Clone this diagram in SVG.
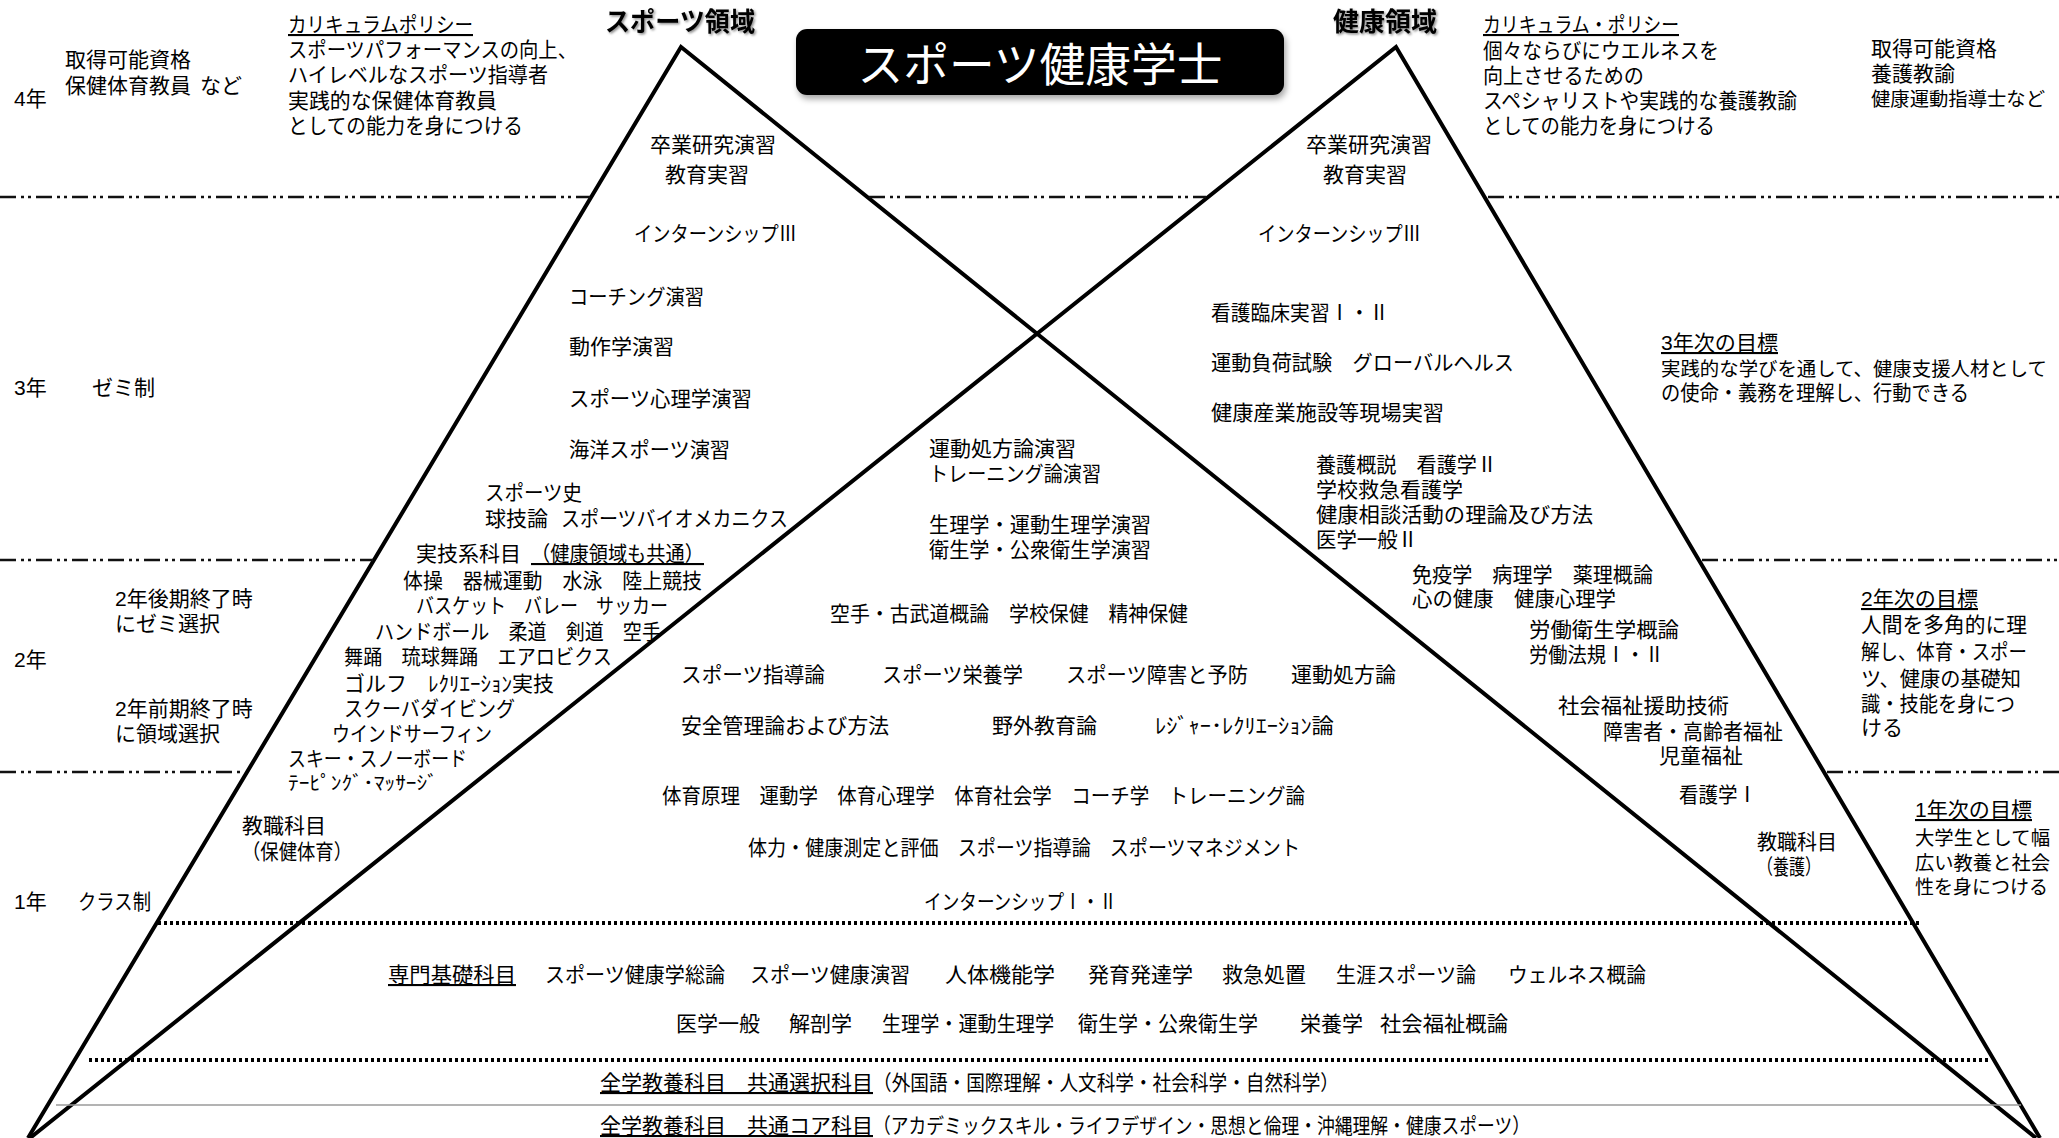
<svg xmlns="http://www.w3.org/2000/svg" width="2059" height="1138" viewBox="0 0 2059 1138">
<style>
.t{font-family:"Liberation Sans","Noto Sans CJK JP","Noto Sans CJK SC",sans-serif;font-size:21px;fill:#000}
.u{text-decoration:underline}
.h{font-weight:bold;font-size:26px}
.tt{font-size:46px;fill:#fff}
.sm{font-size:19px}
.nr{font-size:19.4px}
.tri{fill:none;stroke:#000;stroke-width:4;stroke-linejoin:miter}
.dd{fill:none;stroke:#111;stroke-width:2.5;stroke-dasharray:16 5 3 4 3 5}
.dot{fill:none;stroke:#000;stroke-width:4;stroke-dasharray:3 3}
.gl{fill:none;stroke:#9a9a9a;stroke-width:1.5}
</style>
<defs>
<filter id="sh" x="-10%" y="-20%" width="120%" height="160%"><feDropShadow dx="2" dy="4" stdDeviation="3" flood-color="#000" flood-opacity="0.35"/></filter>
<filter id="ts" x="-10%" y="-30%" width="120%" height="160%"><feDropShadow dx="1.5" dy="1.5" stdDeviation="1" flood-color="#000" flood-opacity="0.45"/></filter>
</defs>
<rect width="2059" height="1138" fill="#fff"/>

<g id="connectors">
<polyline class="tri" points="28,1138 681,47 2036,1138"/>
<polyline class="tri" points="30,1138 1396,47 2040,1138"/>
<line class="dd" x1="0" y1="197" x2="590" y2="197"/>
<line class="dd" x1="869" y1="197" x2="1206" y2="197"/>
<line class="dd" x1="1488" y1="197" x2="2059" y2="197"/>
<line class="dd" x1="0" y1="560" x2="373" y2="560"/>
<line class="dd" x1="1702" y1="560" x2="2059" y2="560"/>
<line class="dd" x1="0" y1="772" x2="242" y2="772"/>
<line class="dd" x1="1827" y1="772" x2="2059" y2="772"/>
<line class="dot" x1="158" y1="923" x2="1920" y2="923"/>
<line class="dot" x1="89" y1="1060" x2="1991" y2="1060"/>
<line class="gl" x1="56" y1="1105" x2="2021" y2="1105"/>
</g>

<g id="title">
<rect x="796" y="29" width="488" height="66" rx="11" fill="#000" filter="url(#sh)"/>
<text class="t tt" x="1040" y="81" text-anchor="middle" textLength="365" lengthAdjust="spacingAndGlyphs">スポーツ健康学士</text>
</g>

<g id="header-sports">
<text class="t h" x="605" y="31" filter="url(#ts)" textLength="150" lengthAdjust="spacingAndGlyphs">スポーツ領域</text>
</g>
<g id="header-health">
<text class="t h" x="1333" y="31" filter="url(#ts)" textLength="104" lengthAdjust="spacingAndGlyphs">健康領域</text>
</g>

<g id="years">
<text class="t" x="14" y="106">4年</text>
<text class="t" x="14" y="395">3年</text>
<text class="t" x="92" y="395">ゼミ制</text>
<text class="t" x="14" y="667">2年</text>
<text class="t" x="115" y="606">2年後期終了時</text>
<text class="t" x="115" y="631">にゼミ選択</text>
<text class="t" x="115" y="716">2年前期終了時</text>
<text class="t" x="115" y="741">に領域選択</text>
<text class="t" x="14" y="909">1年</text>
<text class="t" x="78" y="909" textLength="73" lengthAdjust="spacingAndGlyphs">クラス制</text>
</g>

<g id="sports-qualification">
<text class="t" x="65" y="67">取得可能資格</text>
<text class="t" x="65" y="93">保健体育教員</text>
<text class="t" x="200" y="93">など</text>
</g>

<g id="sports-policy">
<text class="t u" x="288" y="32" textLength="185" lengthAdjust="spacingAndGlyphs">カリキュラムポリシー</text>
<text class="t" x="288" y="57" textLength="289" lengthAdjust="spacingAndGlyphs">スポーツパフォーマンスの向上、</text>
<text class="t" x="288" y="82" textLength="260" lengthAdjust="spacingAndGlyphs">ハイレベルなスポーツ指導者</text>
<text class="t" x="288" y="108" textLength="209" lengthAdjust="spacingAndGlyphs">実践的な保健体育教員</text>
<text class="t" x="288" y="133" textLength="235" lengthAdjust="spacingAndGlyphs">としての能力を身につける</text>
</g>

<g id="health-policy">
<text class="t u" x="1483" y="32" textLength="196" lengthAdjust="spacingAndGlyphs">カリキュラム・ポリシー</text>
<text class="t" x="1483" y="58" textLength="236" lengthAdjust="spacingAndGlyphs">個々ならびにウエルネスを</text>
<text class="t" x="1483" y="83" textLength="161" lengthAdjust="spacingAndGlyphs">向上させるための</text>
<text class="t" x="1483" y="108" textLength="314" lengthAdjust="spacingAndGlyphs">スペシャリストや実践的な養護教諭</text>
<text class="t" x="1483" y="133" textLength="232" lengthAdjust="spacingAndGlyphs">としての能力を身につける</text>
</g>

<g id="health-qualification">
<text class="t" x="1871" y="56">取得可能資格</text>
<text class="t" x="1871" y="81">養護教諭</text>
<text class="t nr" x="1871" y="106" textLength="174" lengthAdjust="spacingAndGlyphs">健康運動指導士など</text>
</g>

<g id="sports-year4">
<text class="t" x="650" y="152">卒業研究演習</text>
<text class="t" x="665" y="182">教育実習</text>
<text class="t" x="634" y="241" textLength="163" lengthAdjust="spacingAndGlyphs">インターンシップⅢ</text>
</g>

<g id="health-year4">
<text class="t" x="1306" y="152">卒業研究演習</text>
<text class="t" x="1323" y="182">教育実習</text>
<text class="t" x="1258" y="241" textLength="163" lengthAdjust="spacingAndGlyphs">インターンシップⅢ</text>
</g>

<g id="sports-year3">
<text class="t" x="569" y="304" textLength="135" lengthAdjust="spacingAndGlyphs">コーチング演習</text>
<text class="t" x="569" y="354">動作学演習</text>
<text class="t" x="569" y="406" textLength="183" lengthAdjust="spacingAndGlyphs">スポーツ心理学演習</text>
<text class="t" x="569" y="457" textLength="161" lengthAdjust="spacingAndGlyphs">海洋スポーツ演習</text>
<text class="t" x="485" y="500" textLength="97" lengthAdjust="spacingAndGlyphs">スポーツ史</text>
<text class="t" x="485" y="526">球技論</text>
<text class="t" x="561" y="526" textLength="227" lengthAdjust="spacingAndGlyphs">スポーツバイオメカニクス</text>
</g>

<g id="practical-subjects">
<text class="t" x="416" y="561">実技系科目</text>
<text class="t u" x="531" y="561" textLength="173" lengthAdjust="spacingAndGlyphs">（健康領域も共通）</text>
<text class="t" x="403" y="588" textLength="299" lengthAdjust="spacingAndGlyphs">体操　器械運動　水泳　陸上競技</text>
<text class="t" x="416" y="613" textLength="252" lengthAdjust="spacingAndGlyphs">バスケット　バレー　サッカー</text>
<text class="t" x="375" y="639" textLength="286" lengthAdjust="spacingAndGlyphs">ハンドボール　柔道　剣道　空手</text>
<text class="t" x="344" y="664" textLength="268" lengthAdjust="spacingAndGlyphs">舞踊　琉球舞踊　エアロビクス</text>
<text class="t" x="344" y="691" textLength="210" lengthAdjust="spacingAndGlyphs">ゴルフ　ﾚｸﾘｴｰｼｮﾝ実技</text>
<text class="t" x="344" y="716" textLength="171" lengthAdjust="spacingAndGlyphs">スクーバダイビング</text>
<text class="t" x="332" y="741" textLength="160" lengthAdjust="spacingAndGlyphs">ウインドサーフィン</text>
<text class="t" x="288" y="766" textLength="179" lengthAdjust="spacingAndGlyphs">スキー・スノーボード</text>
<text class="t sm" x="288" y="790" textLength="150" lengthAdjust="spacingAndGlyphs">ﾃｰﾋﾟﾝｸﾞ･ﾏｯｻｰｼﾞ</text>
</g>

<g id="sports-teaching">
<text class="t" x="242" y="833">教職科目</text>
<text class="t" x="242" y="859" textLength="110" lengthAdjust="spacingAndGlyphs">（保健体育）</text>
</g>

<g id="common-year3">
<text class="t" x="929" y="456">運動処方論演習</text>
<text class="t" x="929" y="481" textLength="172" lengthAdjust="spacingAndGlyphs">トレーニング論演習</text>
<text class="t" x="929" y="532" textLength="222" lengthAdjust="spacingAndGlyphs">生理学・運動生理学演習</text>
<text class="t" x="929" y="557" textLength="222" lengthAdjust="spacingAndGlyphs">衛生学・公衆衛生学演習</text>
</g>

<g id="health-year3">
<text class="t" x="1211" y="320" textLength="178" lengthAdjust="spacingAndGlyphs">看護臨床実習Ⅰ・Ⅱ</text>
<text class="t" x="1211" y="370" textLength="303" lengthAdjust="spacingAndGlyphs">運動負荷試験　グローバルヘルス</text>
<text class="t" x="1211" y="420" textLength="233" lengthAdjust="spacingAndGlyphs">健康産業施設等現場実習</text>
<text class="t" x="1316" y="472" textLength="181" lengthAdjust="spacingAndGlyphs">養護概説　看護学Ⅱ</text>
<text class="t" x="1316" y="497">学校救急看護学</text>
<text class="t" x="1316" y="522" textLength="277" lengthAdjust="spacingAndGlyphs">健康相談活動の理論及び方法</text>
<text class="t" x="1316" y="547" textLength="102" lengthAdjust="spacingAndGlyphs">医学一般Ⅱ</text>
</g>

<g id="health-year2">
<text class="t" x="1412" y="582" textLength="241" lengthAdjust="spacingAndGlyphs">免疫学　病理学　薬理概論</text>
<text class="t" x="1412" y="606" textLength="204" lengthAdjust="spacingAndGlyphs">心の健康　健康心理学</text>
<text class="t" x="1529" y="637" textLength="150" lengthAdjust="spacingAndGlyphs">労働衛生学概論</text>
<text class="t" x="1529" y="662" textLength="135" lengthAdjust="spacingAndGlyphs">労働法規Ⅰ・Ⅱ</text>
<text class="t" x="1558" y="713" textLength="171" lengthAdjust="spacingAndGlyphs">社会福祉援助技術</text>
<text class="t" x="1603" y="739" textLength="180" lengthAdjust="spacingAndGlyphs">障害者・高齢者福祉</text>
<text class="t" x="1659" y="763">児童福祉</text>
<text class="t" x="1679" y="802" textLength="78" lengthAdjust="spacingAndGlyphs">看護学Ⅰ</text>
</g>

<g id="health-teaching">
<text class="t" x="1757" y="849" textLength="80" lengthAdjust="spacingAndGlyphs">教職科目</text>
<text class="t" x="1757" y="874" textLength="64" lengthAdjust="spacingAndGlyphs">（養護）</text>
</g>

<g id="goal-year3">
<text class="t u" x="1661" y="350" textLength="117" lengthAdjust="spacingAndGlyphs">3年次の目標</text>
<text class="t nr" x="1661" y="376" textLength="386" lengthAdjust="spacingAndGlyphs">実践的な学びを通して、健康支援人材として</text>
<text class="t" x="1661" y="400" textLength="308" lengthAdjust="spacingAndGlyphs">の使命・義務を理解し、行動できる</text>
</g>

<g id="goal-year2">
<text class="t u" x="1861" y="606" textLength="117" lengthAdjust="spacingAndGlyphs">2年次の目標</text>
<text class="t" x="1861" y="632" textLength="166" lengthAdjust="spacingAndGlyphs">人間を多角的に理</text>
<text class="t" x="1861" y="659" textLength="166" lengthAdjust="spacingAndGlyphs">解し、体育・スポー</text>
<text class="t" x="1861" y="686" textLength="160" lengthAdjust="spacingAndGlyphs">ツ、健康の基礎知</text>
<text class="t" x="1861" y="711" textLength="154" lengthAdjust="spacingAndGlyphs">識・技能を身につ</text>
<text class="t" x="1861" y="735">ける</text>
</g>

<g id="goal-year1">
<text class="t u" x="1915" y="817" textLength="117" lengthAdjust="spacingAndGlyphs">1年次の目標</text>
<text class="t nr" x="1915" y="845" textLength="135" lengthAdjust="spacingAndGlyphs">大学生として幅</text>
<text class="t nr" x="1915" y="870" textLength="135" lengthAdjust="spacingAndGlyphs">広い教養と社会</text>
<text class="t nr" x="1915" y="894" textLength="133" lengthAdjust="spacingAndGlyphs">性を身につける</text>
</g>

<g id="common-year2">
<text class="t" x="830" y="621" textLength="358" lengthAdjust="spacingAndGlyphs">空手・古武道概論　学校保健　精神保健</text>
<text class="t" x="681" y="682" textLength="144" lengthAdjust="spacingAndGlyphs">スポーツ指導論</text>
<text class="t" x="882" y="682" textLength="141" lengthAdjust="spacingAndGlyphs">スポーツ栄養学</text>
<text class="t" x="1066" y="682" textLength="182" lengthAdjust="spacingAndGlyphs">スポーツ障害と予防</text>
<text class="t" x="1291" y="682">運動処方論</text>
<text class="t" x="681" y="733" textLength="208" lengthAdjust="spacingAndGlyphs">安全管理論および方法</text>
<text class="t" x="992" y="733">野外教育論</text>
<text class="t" x="1155" y="733" textLength="179" lengthAdjust="spacingAndGlyphs">ﾚｼﾞｬｰ･ﾚｸﾘｴｰｼｮﾝ論</text>
</g>

<g id="common-year1">
<text class="t" x="662" y="803" textLength="643" lengthAdjust="spacingAndGlyphs">体育原理　運動学　体育心理学　体育社会学　コーチ学　トレーニング論</text>
<text class="t" x="748" y="855" textLength="552" lengthAdjust="spacingAndGlyphs">体力・健康測定と評価　スポーツ指導論　スポーツマネジメント</text>
<text class="t" x="924" y="909" textLength="193" lengthAdjust="spacingAndGlyphs">インターンシップⅠ・Ⅱ</text>
</g>

<g id="foundation-subjects">
<text class="t u" x="388" y="982" textLength="128" lengthAdjust="spacingAndGlyphs">専門基礎科目</text>
<text class="t" x="545" y="982" textLength="180" lengthAdjust="spacingAndGlyphs">スポーツ健康学総論</text>
<text class="t" x="750" y="982" textLength="160" lengthAdjust="spacingAndGlyphs">スポーツ健康演習</text>
<text class="t" x="945" y="982" textLength="110" lengthAdjust="spacingAndGlyphs">人体機能学</text>
<text class="t" x="1088" y="982">発育発達学</text>
<text class="t" x="1222" y="982">救急処置</text>
<text class="t" x="1336" y="982" textLength="140" lengthAdjust="spacingAndGlyphs">生涯スポーツ論</text>
<text class="t" x="1508" y="982" textLength="138" lengthAdjust="spacingAndGlyphs">ウェルネス概論</text>
<text class="t" x="676" y="1031">医学一般</text>
<text class="t" x="789" y="1031">解剖学</text>
<text class="t" x="882" y="1031" textLength="172" lengthAdjust="spacingAndGlyphs">生理学・運動生理学</text>
<text class="t" x="1078" y="1031" textLength="180" lengthAdjust="spacingAndGlyphs">衛生学・公衆衛生学</text>
<text class="t" x="1300" y="1031">栄養学</text>
<text class="t" x="1380" y="1031" textLength="128" lengthAdjust="spacingAndGlyphs">社会福祉概論</text>
</g>

<g id="general-elective">
<text class="t" x="600" y="1090"><tspan class="u">全学教養科目　共通選択科目</tspan><tspan x="873" textLength="466" lengthAdjust="spacingAndGlyphs">（外国語・国際理解・人文科学・社会科学・自然科学）</tspan></text>
</g>

<g id="general-core">
<text class="t" x="600" y="1133"><tspan class="u">全学教養科目　共通コア科目</tspan><tspan x="873" textLength="657" lengthAdjust="spacingAndGlyphs">（アカデミックスキル・ライフデザイン・思想と倫理・沖縄理解・健康スポーツ）</tspan></text>
</g>
</svg>
